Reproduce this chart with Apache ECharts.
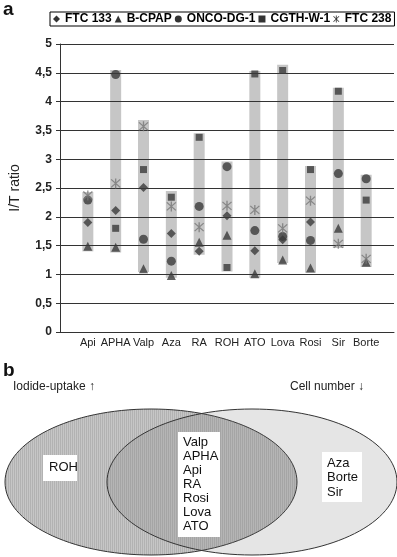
<!DOCTYPE html>
<html>
<head>
<meta charset="utf-8">
<script src="https://cdn.jsdelivr.net/npm/echarts@6/dist/echarts.min.js"></script>
<style>
  html, body { margin: 0; padding: 0; background: #fff; }
  #main { width: 397px; height: 557px; }
</style>
</head>
<body>
<div id="main"></div>
<script>
// drugs on the x axis (positions 1..11)
var drugs = ['Api', 'APHA', 'Valp', 'Aza', 'RA', 'ROH', 'ATO', 'Lova', 'Rosi', 'Sir', 'Borte']
var yTicks = [0, 0.5, 1, 1.5, 2, 2.5, 3, 3.5, 4, 4.5, 5]

// grey range bars (min / max of I/T ratio)
var rangeLow = [1.40, 1.38, 1.04, 0.94, 1.34, 1.05, 0.94, 1.20, 1.03, 1.46, 1.13]
var rangeHigh = [2.43, 4.55, 3.68, 2.45, 3.45, 2.96, 4.53, 4.64, 2.88, 4.24, 2.73]

// cell lines (null = not visible in the figure)
var ftc133 = [1.90, 2.11, 2.51, 1.71, 1.40, 2.02, 1.41, 1.60, 1.91, null, null]
var bcpap = [1.49, 1.47, 1.10, 0.98, 1.56, 1.68, 1.01, 1.25, 1.11, 1.80, 1.21]
var oncodg1 = [2.29, 4.47, 1.61, 1.23, 2.18, 2.87, 1.76, 1.66, 1.59, 2.75, 2.66]
var cgthw1 = [null, 1.80, 2.82, 2.34, 3.38, 1.12, 4.48, 4.54, 2.82, 4.18, 2.29]
var ftc238 = [2.37, 2.58, 3.57, 2.18, 1.82, 2.19, 2.12, 1.80, 2.28, 1.53, 1.27]

var starPath = 'path://M4.4 0L5.6 0L5.6 10L4.4 10Z M0.6 1.4L1.4 0.6L9.4 8.6L8.6 9.4Z M8.6 0.6L9.4 1.4L1.4 9.4L0.6 8.6Z'

function pts(arr) {
  var out = []
  arr.forEach(function (v, i) { if (v != null) out.push([i + 1, v]) })
  return out
}

// vertical stripes for the left venn ellipse
var stripe = document.createElement('canvas')
stripe.width = 4; stripe.height = 4
var sctx = stripe.getContext('2d')
sctx.fillStyle = '#c6c6c6'; sctx.fillRect(0, 0, 4, 4)
sctx.fillStyle = '#b2b2b2'; sctx.fillRect(0, 0, 1, 4); sctx.fillRect(2, 0, 1, 4)

var Chart = echarts.init(document.getElementById('main'), null, { renderer: 'canvas' })
var font = 'Arial, "Liberation Sans", sans-serif'
var dark = '#3a3a3a'

function scatter(name, data, symbol, size, color) {
  return {
    name: name,
    type: 'scatter',
    data: pts(data),
    symbol: symbol,
    symbolSize: size,
    itemStyle: { color: color },
    z: 5
  }
}

var option = {
  animation: false,
  textStyle: { fontFamily: font },
  legend: {
    left: 50,
    top: 12,
    itemWidth: 7,
    itemHeight: 7,
    itemGap: 3,
    padding: [1, 3],
    borderColor: '#000',
    borderWidth: 1,
    textStyle: { fontSize: 12, fontWeight: 'bold', color: '#000', fontFamily: font },
    data: [
      { name: 'FTC 133', icon: 'diamond', itemStyle: { color: '#000' } },
      { name: 'B-CPAP', icon: 'triangle', itemStyle: { color: '#000' } },
      { name: 'ONCO-DG-1', icon: 'circle', itemStyle: { color: '#000' } },
      { name: 'CGTH-W-1', icon: 'rect', itemStyle: { color: '#000' } },
      { name: 'FTC 238', icon: starPath, itemStyle: { color: '#000' } }
    ]
  },
  grid: { left: 44, right: 0, top: 44, bottom: 225, containLabel: false },
  xAxis: {
    type: 'value',
    min: 0,
    max: 12,
    interval: 1,
    axisLine: { show: true, lineStyle: { color: '#333', width: 1 } },
    axisTick: { show: false },
    splitLine: { show: false },
    axisLabel: {
      margin: 5,
      fontSize: 11,
      color: '#222',
      formatter: function (v) { return drugs[v - 1] || '' }
    }
  },
  yAxis: {
    type: 'value',
    min: 0,
    max: 5,
    interval: 0.5,
    z: 3,
    name: 'I/T ratio',
    nameLocation: 'middle',
    nameGap: 38,
    nameTextStyle: { fontSize: 14, color: '#222' },
    axisLine: { show: true, lineStyle: { color: '#333', width: 1 } },
    axisTick: { show: true, length: 4, lineStyle: { color: '#333' } },
    splitLine: { show: true, lineStyle: { color: '#333', width: 1 } },
    axisLabel: {
      margin: 8,
      fontSize: 12,
      fontWeight: 'bold',
      color: '#222',
      formatter: function (v) { return String(v).replace('.', ',') }
    }
  },
  graphic: [
    { type: 'text', left: 3, top: 0, style: { text: 'a', font: 'bold 19px ' + font, fill: '#111' } },
    { type: 'text', left: 3, top: 361, style: { text: 'b', font: 'bold 19px ' + font, fill: '#111' } },
    { type: 'text', left: 13, top: 381, style: { text: 'Iodide-uptake ↑', font: '12px ' + font, fill: '#222' } },
    { type: 'text', left: 290, top: 381, style: { text: 'Cell number ↓', font: '12px ' + font, fill: '#222' } },
    { type: 'ellipse', shape: { cx: 151, cy: 482, rx: 146, ry: 73 },
      style: { fill: { image: stripe, repeat: 'repeat' }, stroke: '#333', lineWidth: 1 } },
    { type: 'ellipse', shape: { cx: 252, cy: 482, rx: 145, ry: 73 },
      style: { fill: 'rgba(100,100,100,0.17)', stroke: '#333', lineWidth: 1 } },
    { type: 'rect', shape: { x: 43, y: 455, width: 34, height: 26 }, style: { fill: '#fff' } },
    { type: 'text', left: 49, top: 461, style: { text: 'ROH', font: '13px ' + font, fill: '#111' } },
    { type: 'rect', shape: { x: 178, y: 432, width: 42, height: 105 }, style: { fill: '#fff' } },
    { type: 'text', left: 183, top: 435, style: { text: 'Valp\nAPHA\nApi\nRA\nRosi\nLova\nATO', font: '13px ' + font, lineHeight: 14, fill: '#111' } },
    { type: 'rect', shape: { x: 322, y: 452, width: 40, height: 50 }, style: { fill: '#fff' } },
    { type: 'text', left: 327, top: 456, style: { text: 'Aza\nBorte\nSir', font: '13px ' + font, lineHeight: 14.5, fill: '#111' } }
  ],
  series: [
    {
      name: 'range',
      type: 'custom',
      z: 1,
      data: rangeLow.map(function (lo, i) { return [i + 1, lo, rangeHigh[i]] }),
      encode: { x: 0, y: [1, 2] },
      renderItem: function (params, api) {
        var lo = api.coord([api.value(0), api.value(1)])
        var hi = api.coord([api.value(0), api.value(2)])
        var w = 11
        return {
          type: 'rect',
          shape: { x: lo[0] - w / 2, y: hi[1], width: w, height: lo[1] - hi[1] },
          style: { fill: '#c6c6c6' }
        }
      }
    },
    scatter('B-CPAP', bcpap, 'triangle', 9, dark),
    scatter('FTC 133', ftc133, 'diamond', 9, dark),
    scatter('CGTH-W-1', cgthw1, 'rect', 7, dark),
    scatter('ONCO-DG-1', oncodg1, 'circle', 9, dark),
    scatter('FTC 238', ftc238, starPath, 10, '#777')
  ]
}
Chart.setOption(option)
</script>
</body>
</html>
